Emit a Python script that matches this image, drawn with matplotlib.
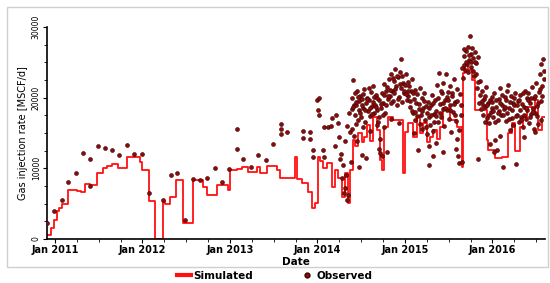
import matplotlib
matplotlib.use("Agg")
import matplotlib.pyplot as plt
from matplotlib.lines import Line2D
from matplotlib.patches import Rectangle
from matplotlib.ticker import FixedLocator, MultipleLocator

# ---------------- data (decimal years) ----------------
sim_dates = [2010.90, 2010.96, 2010.99, 2011.02, 2011.05, 2011.08, 2011.15, 2011.25, 2011.30, 2011.34,
             2011.40, 2011.48, 2011.55, 2011.59, 2011.65, 2011.72, 2011.82, 2011.97, 2011.99, 2012.07,
             2012.14, 2012.24, 2012.26, 2012.31, 2012.383, 2012.463, 2012.577, 2012.691, 2012.737, 2012.851,
             2012.977, 2013.0, 2013.08, 2013.137, 2013.206, 2013.309, 2013.343, 2013.423, 2013.537, 2013.571,
             2013.686, 2013.743, 2013.766, 2013.823, 2013.891, 2013.937, 2013.971, 2014.006, 2014.029, 2014.063,
             2014.109, 2014.166, 2014.2, 2014.234, 2014.28, 2014.314, 2014.349, 2014.371, 2014.406, 2014.429,
             2014.463, 2014.509, 2014.531, 2014.566, 2014.6, 2014.634, 2014.68, 2014.714, 2014.737, 2014.76,
             2014.806, 2014.863, 2014.977, 2015.0, 2015.034, 2015.091, 2015.137, 2015.171, 2015.206, 2015.251,
             2015.286, 2015.32, 2015.366, 2015.4, 2015.434, 2015.514, 2015.594, 2015.651, 2015.663, 2015.686,
             2015.72, 2015.766, 2015.8, 2015.937, 2015.949, 2016.029, 2016.109, 2016.177, 2016.223, 2016.257,
             2016.314, 2016.349, 2016.394, 2016.451, 2016.486, 2016.52, 2016.566, 2016.60]
sim_vals = [600, 1500, 2700, 3900, 4400, 5000, 6900, 6800, 6600, 7800,
            7600, 9300, 10000, 10400, 10600, 10100, 11600, 10900, 9700, 5400,
            0, 5400, 5000, 5900, 8300, 2200, 8300, 7400, 6200, 7600,
            7000, 9700, 9900, 10200, 9500, 10200, 9300, 10400, 9700, 8600,
            8700, 11600, 8500, 7900, 6700, 4400, 5100, 11600, 11000, 10000,
            10700, 7400, 9700, 8700, 6000, 9300, 5100, 9700, 14000, 13200,
            15000, 13700, 14500, 16100, 13900, 17300, 15400, 11200, 9700, 15900,
            17300, 16800, 9300, 15200, 16400, 14500, 17300, 15000, 16400, 13700,
            14500, 15400, 14100, 15900, 18500, 16800, 15900, 10200, 23500, 24600,
            23900, 22500, 18300, 14000, 12600, 11400, 11600, 15000, 16400, 12400,
            15900, 17300, 18700, 17800, 19700, 15400, 17300, 17300]

obs_early_dates = [2010.912, 2010.989, 2011.077, 2011.152, 2011.237, 2011.317, 2011.40, 2011.40, 2011.488, 2011.571,
                   2011.655, 2011.735, 2011.826, 2011.906, 2011.991, 2012.074, 2012.238, 2012.322, 2012.40, 2012.486,
                   2012.574, 2012.657, 2012.74, 2012.829, 2012.912, 2012.992, 2013.077, 2013.077, 2013.152, 2013.24,
                   2013.323, 2013.411, 2013.495, 2013.58, 2013.58, 2013.58, 2013.655, 2013.83, 2013.83, 2013.914,
                   2013.914, 2013.945, 2013.952]
obs_early_vals = [2200, 3960, 5500, 8100, 9300, 12100, 11300, 7540, 13200, 12900,
                  12600, 11900, 13300, 12000, 12000, 6550, 5500, 9100, 9400, 2700,
                  8450, 8350, 8600, 10100, 8100, 9900, 15500, 12700, 11300, 10200,
                  11900, 11200, 13500, 16300, 15500, 14900, 15100, 15300, 14300, 15200,
                  14200, 12600, 11600]

obs_2014_dates = [2014.00, 2014.02, 2014.01, 2014.02, 2014.08, 2014.12, 2014.15, 2014.17, 2014.20, 2014.21,
                  2014.23, 2014.25, 2014.06, 2014.07, 2014.27, 2014.28, 2014.30, 2014.32, 2014.34, 2014.35,
                  2014.33, 2014.29, 2014.26, 2014.31, 2014.34, 2014.36, 2014.37, 2014.38, 2014.39, 2014.40,
                  2014.41, 2014.42, 2014.43, 2014.44, 2014.45, 2014.46, 2014.47, 2014.48, 2014.49, 2014.50,
                  2014.51, 2014.52, 2014.53, 2014.54, 2014.55, 2014.56, 2014.57, 2014.58, 2014.59, 2014.60,
                  2014.61, 2014.62, 2014.63, 2014.64, 2014.65, 2014.66, 2014.67, 2014.68, 2014.69, 2014.70,
                  2014.71, 2014.72, 2014.73, 2014.74, 2014.75, 2014.76, 2014.77, 2014.78, 2014.79, 2014.80,
                  2014.81, 2014.82, 2014.83, 2014.84, 2014.85, 2014.86, 2014.87, 2014.88, 2014.89, 2014.90,
                  2014.91, 2014.92, 2014.93, 2014.94, 2014.95, 2014.96, 2014.97, 2014.98, 2014.99,
                  2014.405, 2014.425, 2014.445, 2014.465, 2014.485, 2014.505, 2014.525, 2014.545, 2014.565, 2014.585,
                  2014.605, 2014.625, 2014.645, 2014.665, 2014.685, 2014.705, 2014.725, 2014.745, 2014.765, 2014.785,
                  2014.805, 2014.825, 2014.845, 2014.865, 2014.885, 2014.905, 2014.925, 2014.945, 2014.965, 2014.985,
                  2014.395, 2014.415, 2014.435, 2014.455, 2014.52, 2014.60, 2014.68, 2014.76, 2014.84, 2014.93,
                  2014.47, 2014.51, 2014.74, 2014.70]
obs_2014_vals = [19700, 19900, 18200, 17500, 15900, 15900, 15950, 17100, 13100, 17500,
                 16400, 14500, 12600, 11600, 12000, 8600, 6500, 7200, 5500, 6200,
                 9000, 10500, 11300, 13800, 16000, 17800, 15200, 10900, 18400, 20000,
                 22500, 19000, 17600, 18900, 21000, 16800, 19500, 18200, 20300, 17300,
                 19800, 18600, 21200, 16500, 19200, 11400, 20000, 18100, 19600, 17400,
                 20800, 18800, 19400, 21600, 17900, 19000, 20400, 18300, 16600, 19700,
                 14200, 12200, 18500, 20600, 19300, 22000, 17800, 20900, 12300, 21500,
                 19800, 22600, 20200, 23300, 21000, 19500, 22400, 20600, 24000, 21700,
                 18900, 22900, 20100, 23600, 21300, 25500, 19400, 22100, 20700,
                 18700, 20600, 19400, 20100, 17800, 18900, 20500, 18200, 19800, 21300,
                 18500, 17700, 20100, 18700, 19900, 17200, 19100, 17600, 20400, 18900,
                 20300, 21100, 19200, 22800, 21200, 23100, 19800, 21900, 23000, 20900,
                 15600, 14600, 16300, 13900, 15800, 15300, 16100, 15800, 17000, 16400,
                 10200, 11900, 11700, 12800]

obs_2015_dates = [2015.00, 2015.01, 2015.02, 2015.03, 2015.04, 2015.05, 2015.06, 2015.07, 2015.08, 2015.09,
                  2015.10, 2015.11, 2015.12, 2015.13, 2015.14, 2015.15, 2015.16, 2015.17, 2015.18, 2015.19,
                  2015.20, 2015.21, 2015.22, 2015.23, 2015.24, 2015.25, 2015.26, 2015.27, 2015.28, 2015.29,
                  2015.30, 2015.31, 2015.32, 2015.33, 2015.34, 2015.35, 2015.36, 2015.37, 2015.38, 2015.39,
                  2015.40, 2015.41, 2015.42, 2015.43, 2015.44, 2015.45, 2015.46, 2015.47, 2015.48, 2015.49,
                  2015.50, 2015.51, 2015.52, 2015.53, 2015.54, 2015.55, 2015.56, 2015.57, 2015.58, 2015.59,
                  2015.60, 2015.61, 2015.62, 2015.63, 2015.64, 2015.65, 2015.66, 2015.67, 2015.68, 2015.69,
                  2015.70, 2015.71, 2015.72, 2015.73, 2015.74, 2015.75, 2015.76, 2015.77, 2015.78, 2015.79,
                  2015.80, 2015.81, 2015.82, 2015.83, 2015.84, 2015.85, 2015.86, 2015.87, 2015.88, 2015.89,
                  2015.90, 2015.91, 2015.92, 2015.93, 2015.94, 2015.95, 2015.96, 2015.97, 2015.98, 2015.99,
                  2015.015, 2015.035, 2015.055, 2015.075, 2015.095, 2015.115, 2015.135, 2015.155, 2015.175, 2015.195,
                  2015.215, 2015.235, 2015.255, 2015.275, 2015.295, 2015.315, 2015.335, 2015.355, 2015.375, 2015.395,
                  2015.415, 2015.435, 2015.455, 2015.475, 2015.495, 2015.515, 2015.535, 2015.555, 2015.575, 2015.595,
                  2015.615, 2015.635, 2015.655, 2015.675, 2015.695, 2015.715, 2015.735, 2015.755, 2015.775, 2015.795,
                  2015.815, 2015.835, 2015.855, 2015.875, 2015.895, 2015.915, 2015.935, 2015.955, 2015.975, 2015.995,
                  2015.32, 2015.44, 2015.58, 2015.10, 2015.27]
obs_2015_vals = [21800, 23400, 19600, 22200, 20300, 21700, 18700, 20900, 22600, 17900,
                 19800, 21100, 16800, 19300, 20500, 12600, 18400, 21400, 17500, 19900,
                 15600, 18600, 20700, 16900, 18800, 14800, 19400, 17200, 10500, 16200,
                 18900, 20400, 15300, 17700, 19600, 13600, 18100, 21800, 16500, 23500,
                 19100, 17300, 20600, 18400, 22100, 16000, 19700, 23300, 18200, 20800,
                 17000, 21600, 19000, 15200, 20300, 18000, 22700, 19400, 16700, 21200,
                 14100, 11800, 10700, 20500, 17600, 10900, 22800, 24600, 25900, 23900,
                 26600, 24800, 27200, 25300, 28700, 26200, 24300, 27000, 25600, 23100,
                 26400, 24900, 21400, 25800, 11300, 19200, 22300, 18400, 20900, 17600,
                 19800, 16500, 18700, 21500, 17100, 19300, 16400, 13400, 18000, 20100,
                 20500, 21000, 19500, 18100, 20600, 18000, 17400, 19100, 16300, 18100,
                 19500, 15900, 17800, 18500, 17500, 19300, 16600, 17400, 19900, 17900,
                 21000, 19300, 18500, 20100, 19600, 18300, 20700, 19100, 17600, 19500,
                 15400, 18900, 24200, 26900, 25000, 23600, 26000, 25000, 23800, 25100,
                 23300, 22200, 20400, 19500, 18900, 20300, 19000, 17600, 19600, 18500,
                 11800, 12300, 12800, 15000, 13200]

obs_2016_dates = [2016.00, 2016.01, 2016.02, 2016.03, 2016.04, 2016.05, 2016.06, 2016.07, 2016.08, 2016.09,
                  2016.10, 2016.11, 2016.12, 2016.13, 2016.14, 2016.15, 2016.16, 2016.17, 2016.18, 2016.19,
                  2016.20, 2016.21, 2016.22, 2016.23, 2016.24, 2016.25, 2016.26, 2016.27, 2016.28, 2016.29,
                  2016.30, 2016.31, 2016.32, 2016.33, 2016.34, 2016.35, 2016.36, 2016.37, 2016.38, 2016.39,
                  2016.40, 2016.41, 2016.42, 2016.43, 2016.44, 2016.45, 2016.46, 2016.47, 2016.48, 2016.49,
                  2016.50, 2016.51, 2016.52, 2016.53, 2016.54, 2016.55, 2016.56, 2016.57, 2016.58, 2016.59,
                  2016.005, 2016.025, 2016.045, 2016.065, 2016.085, 2016.105, 2016.125, 2016.145, 2016.165, 2016.185,
                  2016.205, 2016.225, 2016.245, 2016.265, 2016.285, 2016.305, 2016.325, 2016.345, 2016.365, 2016.385,
                  2016.405, 2016.425, 2016.445, 2016.465, 2016.485, 2016.505, 2016.525, 2016.545, 2016.565, 2016.585,
                  2016.02, 2016.09, 2016.36, 2016.49, 2016.55]
obs_2016_vals = [19400, 17200, 20600, 14000, 18700, 12600, 16900, 19800, 18100, 21300,
                 17500, 19000, 10200, 18400, 20100, 16700, 19600, 17800, 21800, 18600,
                 15400, 20300, 17100, 19200, 16200, 18900, 20700, 10600, 17600, 19500,
                 16600, 18300, 20400, 17300, 19100, 15800, 18700, 21000, 17000, 19900,
                 18200, 20600, 16400, 19300, 17700, 21500, 18500, 15600, 20000, 17900,
                 22100, 18800, 16300, 20800, 23400, 19500, 24800, 21700, 25500, 22600,
                 18100, 16500, 19600, 17800, 19200, 20400, 17600, 18700, 20900, 17000,
                 19400, 18300, 20000, 17400, 18900, 19700, 16900, 20600, 17500, 18600,
                 19600, 17200, 19900, 18000, 20300, 17400, 19300, 21200, 20200, 23800,
                 12300, 14600, 14400, 15200, 16800]

x_tick_years = [2011, 2012, 2013, 2014, 2015, 2016]
x_tick_labels = ["Jan 2011", "Jan 2012", "Jan 2013", "Jan 2014", "Jan 2015", "Jan 2016"]
y_ticks = [0, 10000, 20000, 30000]

obs_dates = obs_early_dates + obs_2014_dates + obs_2015_dates + obs_2016_dates
obs_vals = obs_early_vals + obs_2014_vals + obs_2015_vals + obs_2016_vals

# ---------------- figure ----------------
fig = plt.figure(figsize=(5.5, 2.83), dpi=100)
ax = fig.add_axes([47 / 550, 44 / 283, 498 / 550, 212 / 283])

# outer light frame
fig.patches.append(Rectangle((7 / 550, 16 / 283), 541 / 550, 260 / 283,
                             transform=fig.transFigure, fill=False,
                             edgecolor="#cfcfcf", lw=1.0))

ax.plot(sim_dates, sim_vals, drawstyle="steps-post", color="#ff1010", lw=1.3, zorder=2)
ax.scatter(obs_dates, obs_vals, s=8, color="#8b0a0a", edgecolors="#3a0000",
           linewidths=0.4, zorder=3)

ax.set_xlim(2010.909, 2016.6)
ax.set_ylim(0, 30000)

ax.xaxis.set_major_locator(FixedLocator(x_tick_years))
ax.set_xticklabels(x_tick_labels, fontsize=7, fontweight="bold")
ax.xaxis.set_minor_locator(MultipleLocator(0.25))
ax.yaxis.set_major_locator(FixedLocator(y_ticks))
ax.yaxis.set_minor_locator(MultipleLocator(2500))
ax.set_yticklabels([str(v) for v in y_ticks], fontsize=5.5, rotation=90, va="center")

ax.tick_params(axis="both", which="major", length=3, width=0.8, pad=1.5)
ax.tick_params(axis="both", which="minor", length=2, width=0.6)

for s in ["top", "right"]:
    ax.spines[s].set_visible(False)
for s in ["left", "bottom"]:
    ax.spines[s].set_linewidth(1.2)

ax.set_xlabel("Date", fontsize=7.5, fontweight="bold", labelpad=1)
ax.set_ylabel("Gas injection rate [MSCF/d]", fontsize=7, labelpad=3)

handles = [Line2D([0], [0], color="#ff1010", lw=3),
           Line2D([0], [0], marker="o", ls="none", markersize=3.5,
                  markerfacecolor="#8b0a0a", markeredgecolor="#3a0000")]
fig.legend(handles, ["Simulated", "Observed"], loc="center", bbox_to_anchor=(0.5, 7 / 283),
           ncol=2, frameon=False, prop={"size": 7.5, "weight": "bold"},
           handlelength=1.3, handletextpad=0.3, columnspacing=4.5)

fig.savefig("out.png", dpi=100)
